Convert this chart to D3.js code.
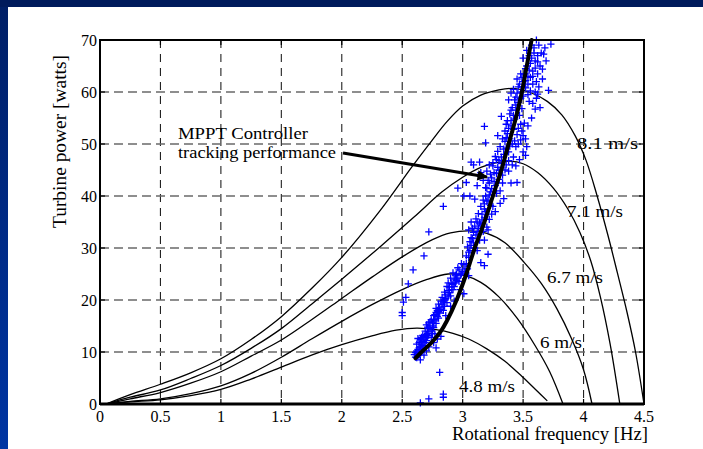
<!DOCTYPE html>
<html><head><meta charset="utf-8">
<script src="https://cdn.jsdelivr.net/npm/d3@7/dist/d3.min.js"></script>
<style>
html,body{margin:0;padding:0;background:#fff;}
svg{display:block;}
</style></head>
<body>
<svg id="chart" width="703" height="449"></svg>
<script>
// ---------- data ----------
const xTicks = [0, 0.5, 1, 1.5, 2, 2.5, 3, 3.5, 4, 4.5];
const xTickLabels = ["0", "0.5", "1", "1.5", "2", "2.5", "3", "3.5", "4", "4.5"];
const yTicks = [0, 10, 20, 30, 40, 50, 60, 70];
const yTickLabels = ["0", "10", "20", "30", "40", "50", "60", "70"];
const windLabels = ["8.1 m/s", "7.1 m/s", "6.7 m/s", "6 m/s", "4.8 m/s"];

// turbine power curves [frequency Hz, power W]
const curve81 = [[0.05,0],[0.25,1.8],[0.5,3.8],[0.75,6.0],[1.0,8.7],[1.25,12.4],[1.5,16.8],[1.75,22.2],[2.0,28.2],[2.32,37.3],[2.58,45.6],[2.75,50.8],[2.87,54.3],[3.0,57.3],[3.15,59.4],[3.3,60.4],[3.42,60.7],[3.55,60.0],[3.7,58.2],[3.82,55.6],[3.93,51.6],[4.02,46.9],[4.11,40.2],[4.2,32.6],[4.28,25.2],[4.36,17.6],[4.43,10.0],[4.5,0]];
const curve71 = [[0.05,0],[0.25,1.3],[0.5,2.7],[0.75,4.9],[1.0,7.4],[1.25,10.7],[1.5,14.5],[1.75,19.2],[2.0,24.0],[2.32,30.3],[2.6,36.0],[2.83,40.8],[3.0,43.6],[3.15,45.5],[3.28,46.4],[3.39,46.7],[3.5,46.2],[3.62,44.5],[3.75,41.5],[3.87,37.5],[3.97,33.0],[4.06,27.5],[4.14,20.5],[4.22,11.5],[4.30,0]];
const curve67 = [[0.05,0],[0.25,1.0],[0.5,2.2],[0.75,4.0],[1.0,6.2],[1.25,9.2],[1.5,12.3],[1.75,16.2],[2.0,20.3],[2.25,24.4],[2.5,28.3],[2.75,31.6],[2.9,32.9],[3.05,33.3],[3.2,32.8],[3.35,31.0],[3.51,27.2],[3.65,23.2],[3.78,18.3],[3.9,12.6],[4.0,6.6],[4.07,0]];
const curve60 = [[0.05,0],[0.25,0.5],[0.5,1.0],[0.75,2.0],[1.0,3.5],[1.25,5.9],[1.5,9.0],[1.75,12.5],[2.0,15.9],[2.25,19.1],[2.5,22.0],[2.7,23.9],[2.88,25.0],[3.02,24.7],[3.15,23.4],[3.3,20.6],[3.45,16.5],[3.6,11.2],[3.72,6.2],[3.83,0]];
const curve48 = [[0.05,0],[0.25,0.4],[0.5,0.8],[0.75,1.6],[1.0,2.8],[1.25,4.8],[1.5,7.1],[1.75,9.4],[2.0,11.4],[2.25,13.1],[2.45,14.2],[2.62,14.6],[2.78,14.3],[2.92,13.6],[3.05,12.5],[3.2,10.6],[3.35,8.2],[3.5,5.1],[3.62,2.4],[3.70,0.6]];

// MPPT optimum curve
const mpptCurve = [[2.61,8.8],[2.66,10],[2.75,12],[2.82,14],[2.87,16],[2.95,20],[3.03,25],[3.10,30],[3.18,35],[3.25,40],[3.32,45],[3.38,50],[3.44,55],[3.49,60],[3.53,65],[3.57,70]];

// measured tracking points [frequency Hz, power W]
const trackPoints = [
[2.60,9.5],[2.61,9.0],[2.62,10.2],[2.63,9.3],[2.64,10.8],[2.62,11.5],[2.65,11.0],[2.66,10.0],[2.67,12.0],[2.68,11.2],[2.63,12.6],[2.66,12.8],[2.69,13.0],[2.70,12.2],[2.71,13.6],[2.72,14.5],[2.70,15.2],[2.74,14.0],[2.73,15.8],[2.75,15.0],[2.76,16.3],[2.78,15.5],[2.77,17.2],[2.79,16.8],[2.80,17.8],[2.74,12.8],[2.77,13.5],[2.79,12.5],[2.82,13.0],[2.68,9.4],[2.65,8.5],[2.70,10.2],[2.72,11.0],[2.76,11.8],[2.78,10.8],
[2.81,18.5],[2.83,19.2],[2.84,18.0],[2.85,20.0],[2.86,21.0],[2.87,19.5],[2.88,21.8],[2.89,22.5],[2.90,20.8],[2.91,23.2],[2.92,22.0],[2.93,24.0],[2.94,23.3],[2.95,25.0],[2.96,24.2],[2.97,25.8],[2.98,24.8],[3.00,25.5],[3.02,26.0],[3.05,24.7],[2.90,18.8],[2.93,19.8],[2.86,17.0],[2.98,22.0],[3.01,21.2],
[3.03,27.0],[3.05,28.2],[3.06,29.5],[3.07,30.5],[3.08,31.8],[3.09,33.0],[3.10,34.2],[3.11,32.5],[3.12,35.0],[3.13,33.8],[3.14,31.5],[3.15,34.6],[3.16,36.5],[3.17,33.2],[3.18,35.8],[3.19,37.0],[3.20,34.0],[3.10,30.0],[3.12,29.5],[3.22,35.5],[3.23,38.2],[3.05,33.5],[3.07,35.0],
[3.18,38.5],[3.19,40.0],[3.20,41.5],[3.21,39.2],[3.22,42.5],[3.23,40.8],[3.24,43.5],[3.25,38.0],[3.26,44.5],[3.27,42.0],[3.28,40.5],[3.29,45.5],[3.30,43.2],[3.31,41.0],[3.32,46.3],[3.33,44.0],[3.34,39.5],[3.35,45.0],[3.12,42.0],[3.15,44.5],[3.17,43.0],[3.20,44.8],[3.22,46.0],[3.25,45.8],[3.28,47.0],[3.30,46.8],[3.36,46.0],[3.38,44.8],[3.40,42.5],
[3.34,48.0],[3.35,50.5],[3.36,49.2],[3.37,52.0],[3.38,48.5],[3.39,51.0],[3.40,53.5],[3.41,50.0],[3.42,52.8],[3.43,54.8],[3.44,49.5],[3.45,51.8],[3.46,53.0],[3.47,55.5],[3.48,50.8],[3.49,52.5],[3.50,48.5],[3.51,54.0],[3.52,51.0],[3.38,46.8],[3.42,47.5],[3.47,47.0],[3.53,49.5],[3.36,53.8],[3.40,56.5],[3.44,57.5],[3.49,56.8],[3.54,53.5],
[3.38,58.5],[3.40,59.8],[3.42,60.5],[3.44,59.0],[3.46,61.0],[3.48,60.0],[3.50,59.2],[3.52,60.8],[3.54,59.5],[3.56,60.2],[3.58,61.5],[3.60,60.0],[3.45,62.5],[3.48,63.5],[3.50,62.0],[3.52,64.5],[3.54,63.0],[3.56,65.5],[3.58,64.0],[3.60,66.0],[3.62,63.5],[3.64,65.0],[3.66,62.5],[3.50,66.5],[3.53,68.0],[3.55,67.0],[3.57,69.0],[3.59,68.5],[3.61,70.0],[3.63,69.0],[3.65,67.5],[3.68,68.5],[3.62,67.0],[3.58,57.8],[3.61,58.8],[3.64,57.0],[3.55,58.2],
[2.50,17.6],[2.50,17.0],[2.51,19.6],[2.53,20.5],[2.55,23.1],[2.59,25.8],[2.68,28.5],[2.72,33.1],[2.84,38.0],[2.81,6.1],[2.84,1.9],[2.84,1.3],[2.72,1.0],[2.65,0.2],
[3.07,46.5],[3.09,46.0],[3.14,46.5],[3.18,53.4],[3.19,50.2],[3.29,51.6],[3.32,55.3],[2.96,41.5],[3.01,40.0],[3.03,42.6],[3.06,40.0],[3.10,39.4],[3.05,29.2],[3.07,32.0],[3.18,26.6],[3.15,27.2],[3.21,28.8],[3.45,42.6],[3.52,47.8],[3.60,56.7],[3.57,55.0],[3.73,69.2],[3.67,67.3],[3.69,66.0],[3.66,64.4],[3.71,60.3],[3.62,59.6],
[2.61,9.9],[2.62,8.9],[2.63,10.5],[2.64,9.6],[2.64,11.8],[2.65,12.4],[2.66,11.5],[2.67,10.6],[2.67,13.2],[2.68,12.5],[2.69,11.8],[2.69,14.0],[2.70,13.4],[2.71,12.8],[2.71,14.8],[2.72,13.2],[2.72,15.6],[2.73,14.6],[2.74,16.2],[2.75,15.6],[2.75,13.6],[2.76,17.0],[2.76,14.7],[2.77,16.0],[2.78,17.6],[2.78,18.4],[2.79,18.0],[2.80,16.5],[2.80,19.2],[2.81,17.5],[2.82,19.8],[2.82,18.2],[2.83,20.5],[2.84,19.6],[2.85,21.5],[2.85,18.8],[2.86,20.3],[2.87,22.6],[2.88,20.6],[2.88,23.3],[2.89,21.4],[2.90,24.2],[2.91,22.0],[2.92,23.0],[2.92,25.2],[2.93,22.6],[2.94,24.8],[2.95,23.8],[2.96,26.2],[2.97,23.6],[2.99,25.0],[2.99,27.0],[3.01,26.8],[3.02,25.2],[3.03,28.5],[3.04,26.0],
[3.04,30.2],[3.06,31.2],[3.08,33.8],[3.09,31.0],[3.11,35.6],[3.12,33.2],[3.13,36.6],[3.14,34.8],[3.15,38.0],[3.16,35.4],[3.17,39.2],[3.18,37.5],[3.19,41.6],[3.20,39.0],[3.21,43.0],[3.22,40.2],[3.23,44.2],[3.24,41.4],[3.25,46.4],[3.26,42.8],[3.27,47.6],[3.28,44.3],[3.29,48.6],[3.30,45.0],[3.31,49.5],[3.32,47.5],[3.33,51.0],[3.34,49.0],[3.35,52.5],[3.36,51.2],[3.37,54.5],[3.38,53.0],[3.39,55.8],[3.40,54.5],[3.41,57.0],[3.42,55.5],[3.43,58.5],[3.44,56.5],[3.45,59.8],[3.46,58.0],[3.47,61.5],[3.48,58.8],[3.49,62.8],[3.50,61.0],[3.51,63.5],[3.52,62.2],[3.53,65.0],[3.54,61.5],[3.55,64.2],[3.56,62.8],[3.57,66.5],[3.58,63.0],[3.59,67.5],[3.60,64.6],[3.61,62.0],[3.62,65.8],[3.63,61.0],[3.46,50.0],[3.48,53.8],[3.50,51.6],[3.43,50.6],[3.39,49.6],[3.41,46.0],[3.44,45.8],[3.33,42.5],[3.31,38.6],[3.27,37.0],[3.24,36.5],[3.21,33.5],[3.18,31.5]
];

// ---------- layout ----------
const W = 703, H = 449;
const FONT = "'Liberation Serif', 'Times New Roman', Times, serif";
const plot = {left: 100, right: 644, top: 40, bottom: 404};
const svg = d3.select("#chart");

const defs = svg.append("defs");
const grad = defs.append("linearGradient").attr("id","sideGrad").attr("x1",0).attr("y1",0).attr("x2",0).attr("y2",1);
grad.append("stop").attr("offset","0%").attr("stop-color","#001f66");
grad.append("stop").attr("offset","100%").attr("stop-color","#0035a3");
svg.append("rect").attr("x",0).attr("y",0).attr("width",8).attr("height",H).attr("fill","url(#sideGrad)");
svg.append("rect").attr("x",0).attr("y",0).attr("width",W).attr("height",7).attr("fill","#001b5c");

const x = d3.scaleLinear().domain([0, 4.5]).range([plot.left, plot.right]);
const y = d3.scaleLinear().domain([0, 70]).range([plot.bottom, plot.top]);

// grid
const g = svg.append("g");
g.selectAll(".vgrid").data(xTicks.slice(1, -1)).join("line")
  .attr("x1", d => x(d)).attr("x2", d => x(d)).attr("y1", plot.top).attr("y2", plot.bottom)
  .attr("stroke", "#222").attr("stroke-width", 1.1).attr("stroke-dasharray", "8,6");
g.selectAll(".hgrid").data(yTicks.slice(1, -1)).join("line")
  .attr("x1", plot.left).attr("x2", plot.right).attr("y1", d => y(d)).attr("y2", d => y(d))
  .attr("stroke", "#6a6a6a").attr("stroke-width", 1.6).attr("stroke-dasharray", "9,5");

// curves
const line = d3.line().x(d => x(d[0])).y(d => y(d[1])).curve(d3.curveCatmullRom.alpha(0.5));
[curve81, curve71, curve67, curve60, curve48].forEach(c => {
  g.append("path").attr("d", line(c)).attr("fill", "none").attr("stroke", "#000").attr("stroke-width", 1.3);
});

// scatter plus markers
const arm = 3.6;
g.selectAll(".pt").data(trackPoints).join("path")
  .attr("d", d => `M${x(d[0]) - arm},${y(d[1])}H${x(d[0]) + arm}M${x(d[0])},${y(d[1]) - arm}V${y(d[1]) + arm}`)
  .attr("stroke", "#0000ff").attr("stroke-width", 1.3).attr("fill", "none");

// MPPT curve
g.append("path").attr("d", line(mpptCurve)).attr("fill", "none").attr("stroke", "#000").attr("stroke-width", 4).attr("stroke-linecap","round");

// frame & ticks
const axisG = svg.append("g");
axisG.append("rect").attr("x", plot.left).attr("y", plot.top).attr("width", plot.right - plot.left).attr("height", plot.bottom - plot.top)
  .attr("fill", "none").attr("stroke", "#000").attr("stroke-width", 2);
axisG.append("line").attr("x1", plot.left).attr("x2", plot.right).attr("y1", plot.bottom).attr("y2", plot.bottom).attr("stroke","#000").attr("stroke-width",2.8);
const tl = 5;
xTicks.forEach(t => {
  axisG.append("line").attr("x1", x(t)).attr("x2", x(t)).attr("y1", plot.bottom).attr("y2", plot.bottom - tl).attr("stroke","#000").attr("stroke-width",1.2);
  axisG.append("line").attr("x1", x(t)).attr("x2", x(t)).attr("y1", plot.top).attr("y2", plot.top + tl).attr("stroke","#000").attr("stroke-width",1.2);
});
yTicks.forEach(t => {
  axisG.append("line").attr("x1", plot.left).attr("x2", plot.left + tl).attr("y1", y(t)).attr("y2", y(t)).attr("stroke","#000").attr("stroke-width",1.2);
  axisG.append("line").attr("x1", plot.right).attr("x2", plot.right - tl).attr("y1", y(t)).attr("y2", y(t)).attr("stroke","#000").attr("stroke-width",1.2);
});

// tick labels
axisG.selectAll(".xl").data(xTicks).join("text")
  .attr("x", d => x(d)).attr("y", plot.bottom + 17.5).attr("text-anchor", "middle")
  .attr("font-family", FONT).attr("font-size", 16).attr("fill", "#000").text((d, i) => xTickLabels[i]);
axisG.selectAll(".yl").data(yTicks).join("text")
  .attr("x", plot.left - 3).attr("y", d => y(d) + 5.5).attr("text-anchor", "end")
  .attr("font-family", FONT).attr("font-size", 16).attr("fill", "#000").text((d, i) => yTickLabels[i]);

// text helper with measured span width
function label(xp, yp, txt, size, span) {
  const t = svg.append("text").attr("x", xp).attr("y", yp).attr("font-family", FONT)
    .attr("font-size", size).attr("fill", "#000").text(txt);
  if (span) t.attr("textLength", span).attr("lengthAdjust", "spacingAndGlyphs");
  return t;
}
// axis titles
label(452, 440, "Rotational frequency [Hz]", 18, 196);
svg.append("text").attr("transform", "translate(66,228) rotate(-90)").attr("font-family", FONT)
  .attr("font-size", 18).attr("fill", "#000").attr("textLength", 173).attr("lengthAdjust", "spacingAndGlyphs")
  .text("Turbine power [watts]");

// wind speed labels
const labelPos = [[577,149,61],[567,217,56],[547,283,56],[540,348,42],[459,392,56]];
windLabels.forEach((t, i) => label(labelPos[i][0], labelPos[i][1], t, 16, labelPos[i][2]));

// annotation
label(178, 139, "MPPT Controller", 16, 130);
label(178, 158, "tracking performance", 16, 158);
defs.append("marker").attr("id", "arrowHead").attr("viewBox", "0 0 10 10").attr("refX", 9).attr("refY", 5)
  .attr("markerWidth", 5.5).attr("markerHeight", 3.5).attr("markerUnits","strokeWidth").attr("orient", "auto")
  .append("path").attr("d", "M0,0L10,5L0,10Z").attr("fill", "#000");
svg.append("line").attr("x1", 343).attr("y1", 153).attr("x2", 487).attr("y2", 177)
  .attr("stroke", "#000").attr("stroke-width", 3).attr("marker-end", "url(#arrowHead)");
</script>
</body></html>
